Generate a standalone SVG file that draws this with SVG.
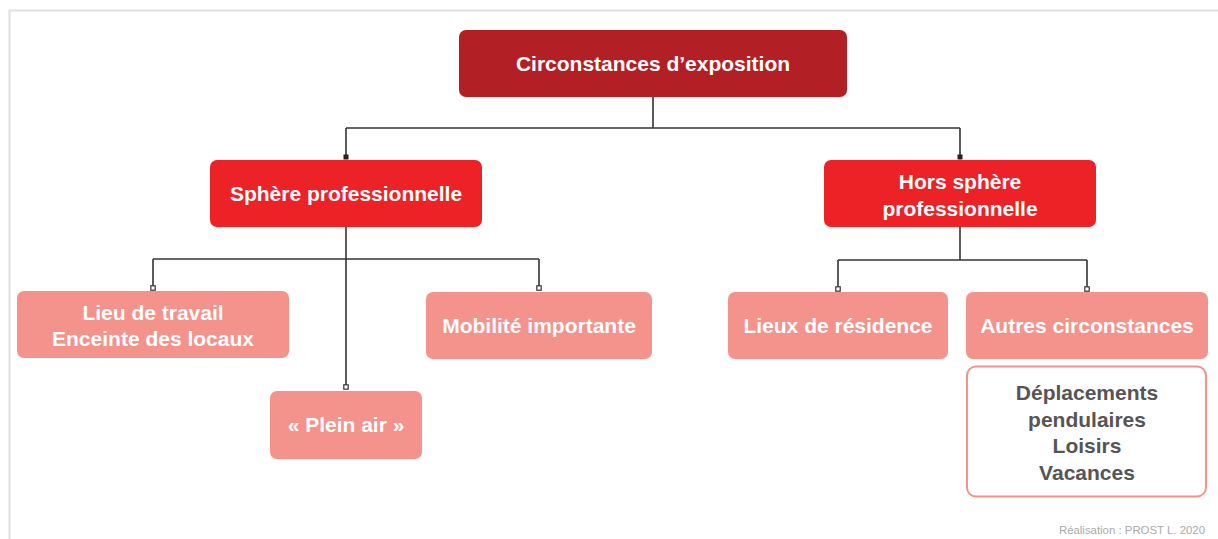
<svg xmlns="http://www.w3.org/2000/svg" width="1218" height="539" viewBox="0 0 1218 539">
<style>
.t{font-family:"Liberation Sans",Arial,sans-serif;font-weight:bold;text-anchor:middle;fill:#fff;font-size:21px}
.d{fill:#555}
.l1{fill:#b21f24}
.l2{fill:#ec2227}
.l3{fill:#f4928c}
.c{fill:none;stroke:#333;stroke-width:1.6}
</style>
<defs>
<marker id="fs" viewBox="0 0 6 6" refX="3" refY="3" markerWidth="6" markerHeight="6" markerUnits="userSpaceOnUse"><rect x="0.5" y="0.5" width="5" height="5" fill="#222"/></marker>
<marker id="hs" viewBox="0 0 6 6" refX="3" refY="3" markerWidth="6" markerHeight="6" markerUnits="userSpaceOnUse"><rect x="0.8" y="0.8" width="4.4" height="4.4" fill="#fff" stroke="#333" stroke-width="1.2"/></marker>
</defs>
<rect width="1218" height="539" fill="#fff"/>
<path d="M9.5,539 V10.5 H1218" fill="none" stroke="#e0e0e0" stroke-width="2"/>
<g id="connectors">
<path class="c" d="M653,97 V128"/>
<path class="c" d="M346,128 H960"/>
<path class="c" d="M346,128 V157" marker-end="url(#fs)"/>
<path class="c" d="M960,128 V157" marker-end="url(#fs)"/>
<path class="c" d="M346,227 V259"/>
<path class="c" d="M153,259 H539"/>
<path class="c" d="M153,259 V288" marker-end="url(#hs)"/>
<path class="c" d="M539,259 V288" marker-end="url(#hs)"/>
<path class="c" d="M346,259 V387" marker-end="url(#hs)"/>
<path class="c" d="M960,227 V260"/>
<path class="c" d="M838,260 H1087"/>
<path class="c" d="M838,260 V289" marker-end="url(#hs)"/>
<path class="c" d="M1087,260 V289" marker-end="url(#hs)"/>
</g>
<g id="root"><rect class="l1" x="459" y="30" width="388" height="67" rx="7"/><text class="t" x="653" y="71">Circonstances d’exposition</text></g>
<g id="sphere"><rect class="l2" x="210" y="160" width="272" height="67" rx="7"/><text class="t" x="346" y="201">Sphère professionnelle</text></g>
<g id="hors"><rect class="l2" x="824" y="160" width="272" height="67" rx="7"/><text class="t" x="960" y="189">Hors sphère</text><text class="t" x="960" y="216">professionnelle</text></g>
<g id="lieu"><rect class="l3" x="17" y="291" width="272" height="67" rx="7"/><text class="t" x="153" y="320">Lieu de travail</text><text class="t" x="153" y="346">Enceinte des locaux</text></g>
<g id="mobilite"><rect class="l3" x="426" y="292" width="226" height="67" rx="7"/><text class="t" x="539" y="333">Mobilité importante</text></g>
<g id="pleinair"><rect class="l3" x="270" y="391" width="152" height="68" rx="7"/><text class="t" x="346" y="432">« Plein air »</text></g>
<g id="residence"><rect class="l3" x="728" y="292" width="220" height="67" rx="7"/><text class="t" x="838" y="333">Lieux de résidence</text></g>
<g id="autres"><rect class="l3" x="966" y="292" width="242" height="67" rx="7"/><text class="t" x="1087" y="333">Autres circonstances</text></g>
<g id="details"><rect x="967" y="366.5" width="239" height="130" rx="9" fill="#fff" stroke="#f4928c" stroke-width="2"/>
<text class="t d" x="1087" y="400">Déplacements</text><text class="t d" x="1087" y="427">pendulaires</text><text class="t d" x="1087" y="453">Loisirs</text><text class="t d" x="1087" y="480">Vacances</text></g>
<text x="1205" y="534" font-family="Liberation Sans,Arial,sans-serif" font-size="11.4" fill="#aaa" text-anchor="end">Réalisation : PROST L. 2020</text>
</svg>
